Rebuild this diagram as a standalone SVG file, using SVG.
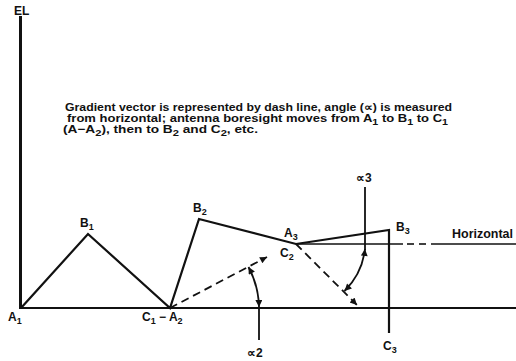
<svg xmlns="http://www.w3.org/2000/svg" width="516" height="361" viewBox="0 0 516 361">
<style>
text{font-family:"Liberation Sans",Arial,sans-serif;font-weight:bold;fill:#111;}
.lbl{font-size:12px;}
.note{font-size:11px;}
.sub{font-size:9px;}
.ln{stroke:#111;fill:none;stroke-linejoin:miter;}
.dash{stroke:#111;fill:none;stroke-width:1.8;stroke-dasharray:8 5;}
</style>
<defs>
<marker id="ah" viewBox="0 0 10 10" refX="10" refY="5" markerWidth="10" markerHeight="7" markerUnits="userSpaceOnUse" orient="auto-start-reverse">
<path d="M0,0 L10,5 L0,10 z" fill="#111"/>
</marker>
</defs>
<rect width="516" height="361" fill="#fff"/>

<g id="axes">
<line class="ln" x1="20.5" y1="16" x2="20.5" y2="309" stroke-width="3"/>
<line class="ln" x1="19" y1="308" x2="516" y2="308" stroke-width="2"/>
<text class="lbl" x="14" y="15">EL</text>
</g>

<g id="note">
<text class="note" x="65" y="111" textLength="387" lengthAdjust="spacingAndGlyphs">Gradient vector is represented by dash line, angle (∝) is measured</text>
<text class="note" x="67" y="122" textLength="381" lengthAdjust="spacingAndGlyphs">from horizontal; antenna boresight moves from A<tspan class="sub" dy="2.5">1</tspan><tspan dy="-2.5"> to B</tspan><tspan class="sub" dy="2.5">1</tspan><tspan dy="-2.5"> to C</tspan><tspan class="sub" dy="2.5">1</tspan></text>
<text class="note" x="63" y="133" textLength="195" lengthAdjust="spacingAndGlyphs">(A−A<tspan class="sub" dy="2.5">2</tspan><tspan dy="-2.5">), then to B</tspan><tspan class="sub" dy="2.5">2</tspan><tspan dy="-2.5"> and C</tspan><tspan class="sub" dy="2.5">2</tspan><tspan dy="-2.5">, etc.</tspan></text>
</g>

<g id="connectors">
<polyline class="ln" stroke-width="2.2" points="21,308 88,234 170,308 199,219 296,244 389,230 389,333"/>
<line class="ln" stroke-width="1.6" x1="296" y1="244" x2="403" y2="244"/>
<line class="ln" stroke-width="1.6" x1="407" y1="244" x2="414" y2="244"/>
<line class="ln" stroke-width="1.6" x1="419" y1="244" x2="426" y2="244"/>
<line class="ln" stroke-width="1.6" x1="431" y1="244" x2="516" y2="244"/>
<line class="dash" x1="170" y1="308" x2="267" y2="257" marker-end="url(#ah)"/>
<line class="dash" x1="296" y1="244" x2="357" y2="305" marker-end="url(#ah)"/>
<path class="ln" stroke-width="1.8" d="M259,307 A89,89 0 0 0 248.5,267" marker-start="url(#ah)" marker-end="url(#ah)"/>
<line class="ln" stroke-width="1.8" x1="259" y1="308" x2="259" y2="340"/>
<path class="ln" stroke-width="1.8" d="M365,249 A70,70 0 0 1 344.5,291" marker-start="url(#ah)" marker-end="url(#ah)"/>
<line class="ln" stroke-width="1.8" x1="365" y1="187" x2="365" y2="250"/>
</g>

<g id="A1"><text class="lbl" x="8" y="321">A<tspan class="sub" dy="3">1</tspan></text></g>
<g id="B1"><text class="lbl" x="80" y="227">B<tspan class="sub" dy="3">1</tspan></text></g>
<g id="C1A2"><text class="lbl" x="142" y="321">C<tspan class="sub" dy="3">1</tspan><tspan dy="-3"> − A</tspan><tspan class="sub" dy="3">2</tspan></text></g>
<g id="B2"><text class="lbl" x="193" y="212">B<tspan class="sub" dy="3">2</tspan></text></g>
<g id="A3"><text class="lbl" x="284" y="237">A<tspan class="sub" dy="3">3</tspan></text></g>
<g id="C2"><text class="lbl" x="280" y="257">C<tspan class="sub" dy="3">2</tspan></text></g>
<g id="B3"><text class="lbl" x="396" y="231">B<tspan class="sub" dy="3">3</tspan></text></g>
<g id="C3"><text class="lbl" x="383" y="350">C<tspan class="sub" dy="3">3</tspan></text></g>
<g id="alpha2"><text class="lbl" x="247" y="357">∝2</text></g>
<g id="alpha3"><text class="lbl" x="356" y="182">∝3</text></g>
<g id="horizontal"><text class="lbl" x="452" y="238" textLength="61" lengthAdjust="spacingAndGlyphs">Horizontal</text></g>
</svg>
